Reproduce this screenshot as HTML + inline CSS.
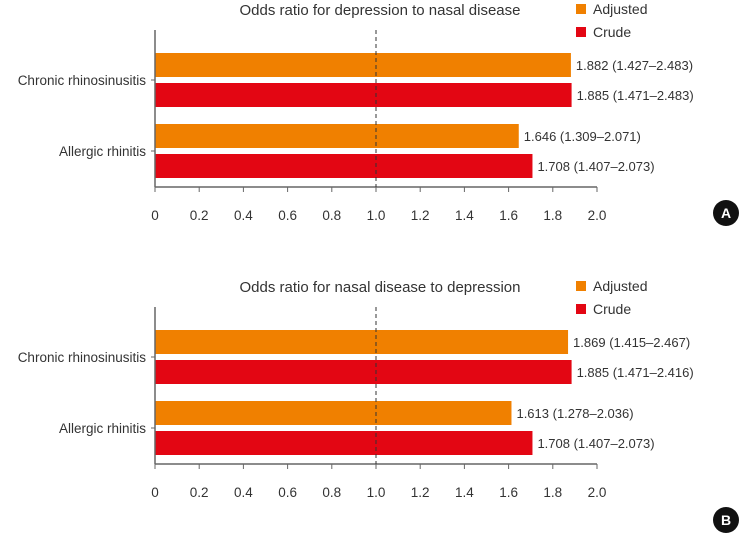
<!DOCTYPE html>
<html><head><meta charset="utf-8"><style>
body{margin:0;background:#fff;width:740px;height:533px;overflow:hidden;font-family:"Liberation Sans",sans-serif}
</style></head><body>
<svg id="c" width="740" height="533"></svg>
<script>
const categories=["Chronic rhinosinusitis","Allergic rhinitis"];
const adjustedA=[1.882,1.646];
const crudeA=[1.885,1.708];
const adjustedLabelsA=["1.882 (1.427–2.483)","1.646 (1.309–2.071)"];
const crudeLabelsA=["1.885 (1.471–2.483)","1.708 (1.407–2.073)"];
const adjustedB=[1.869,1.613];
const crudeB=[1.885,1.708];
const adjustedLabelsB=["1.869 (1.415–2.467)","1.613 (1.278–2.036)"];
const crudeLabelsB=["1.885 (1.471–2.416)","1.708 (1.407–2.073)"];
const ticks=[0,0.2,0.4,0.6,0.8,1.0,1.2,1.4,1.6,1.8,2.0];
const tickLabels=["0","0.2","0.4","0.6","0.8","1.0","1.2","1.4","1.6","1.8","2.0"];
const titles=["Odds ratio for depression to nasal disease","Odds ratio for nasal disease to depression"];
const panelLetters=["A","B"];
const svg=document.getElementById('c');const NS='http://www.w3.org/2000/svg';
function mk(t,a,p){const e=document.createElementNS(NS,t);for(const k in a)e.setAttribute(k,a[k]);(p||svg).appendChild(e);return e;}
const x=v=>155+v*221;
function panel(oy,adj,cru,adjL,cruL,title,letter,circOff){
  const g=mk('g',{});
  
  
  const t=mk('text',{x:380,y:oy+15,'text-anchor':'middle','font-size':15,fill:'#333'},g);t.textContent=title;
  
  [['Adjusted','#f08000',0],['Crude','#e30613',23]].forEach(([n,c,d])=>{
    const r=mk('rect',{x:576,y:oy+4+d,width:10,height:10,fill:c},g);
    
    const lt=mk('text',{x:593,y:oy+14+d,'font-size':14,fill:'#333'},g);lt.textContent=n;
    
  });
  const by=oy+53;
  categories.forEach((c,i)=>{
    const y0=by+i*71;
    [[adj[i],adjL[i],'#f08000',0,'adjusted'],[cru[i],cruL[i],'#e30613',30,'crude']].forEach(([v,l,col,d,s])=>{
      const b=mk('rect',{x:x(0),y:y0+d,width:x(v)-x(0),height:24,fill:col},g);
      
      const bt=mk('text',{x:x(v)+5,y:y0+d+17,'font-size':13,fill:'#333'},g);bt.textContent=l;
      
    });
    mk('line',{x1:x(0)-4,x2:x(0),y1:y0+27,y2:y0+27,stroke:'#666'},g);
    const ct=mk('text',{x:146,y:y0+32,'text-anchor':'end','font-size':13.5,fill:'#333'},g);ct.textContent=c;
    
  });
  const ay=oy+187;
  mk('line',{x1:x(0),x2:x(0),y1:oy+30,y2:ay,stroke:'#666','stroke-width':1.5},g);
  mk('line',{x1:x(0),x2:x(2),y1:ay,y2:ay,stroke:'#666','stroke-width':1.5},g);
  mk('line',{x1:x(1),x2:x(1),y1:oy+30,y2:ay,stroke:'#333','stroke-dasharray':'4,3'},g);
  ticks.forEach((v,i)=>{
    mk('line',{x1:x(v),x2:x(v),y1:ay,y2:ay+5,stroke:'#666'},g);
    const tt=mk('text',{x:x(v),y:ay+33,'text-anchor':'middle','font-size':13.5,fill:'#333'},g);tt.textContent=tickLabels[i];
    
  });
  mk('circle',{cx:726,cy:ay+circOff,r:13,fill:'#111'},g);
  const lt=mk('text',{x:726,y:ay+circOff+5,'text-anchor':'middle','font-size':14,'font-weight':'bold',fill:'#fff'},g);lt.textContent=letter;
  
}
panel(0,adjustedA,crudeA,adjustedLabelsA,crudeLabelsA,titles[0],panelLetters[0],26);
panel(277,adjustedB,crudeB,adjustedLabelsB,crudeLabelsB,titles[1],panelLetters[1],56);
</script>
</body></html>
